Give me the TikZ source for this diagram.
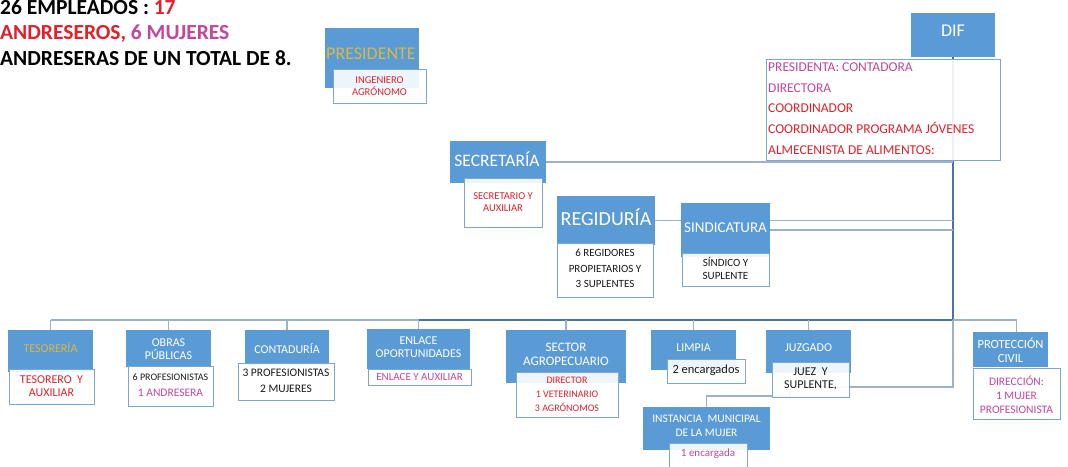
\documentclass[tikz,border=0pt]{standalone}
\usepackage{fontspec}
\setmainfont{Carlito}
\usetikzlibrary{backgrounds}

\definecolor{boxblue}{HTML}{5B9BD5}
\definecolor{edgeblue}{HTML}{7DA7CF}
\definecolor{linkgray}{HTML}{9DB2C8}
\definecolor{trunkblue}{HTML}{4C74A0}
\definecolor{redtxt}{HTML}{E3202A}
\definecolor{pinktxt}{HTML}{C2479C}
\definecolor{goldtxt}{HTML}{D9B843}
\definecolor{darktxt}{HTML}{1A1A1A}

\pgfdeclarelayer{paper}
\pgfsetlayers{paper,background,main}

\newcommand\fsz[2]{\fontsize{#1}{#2}\selectfont}

\begin{document}
\begin{tikzpicture}[x=1pt,y=-1pt,
  bbox/.style={fill=boxblue, draw=none, inner sep=0, outer sep=0, anchor=north west},
  wbox/.style={fill=white, fill opacity=0.9, draw=edgeblue, draw opacity=1,
               line width=0.9pt, inner sep=0, outer sep=0, anchor=north west},
  ttl/.style={inner sep=0, align=center, text=white},
  sub/.style={inner sep=0, align=center},
  line/.style={inner sep=0, anchor=base west},
  link/.style={draw=linkgray, line width=1.1pt},
  trunk/.style={draw=trunkblue, line width=2pt},
]
\useasboundingbox (0,0) rectangle (1068,466);
\clip (0,0) rectangle (1068,466);
\begin{pgfonlayer}{paper}
  \fill[white] (0,0) rectangle (1068,466);
\end{pgfonlayer}

% headline
\node[line, font=\bfseries\fsz{21.5}{26}] (head1) at (0,14.8)
  {26 EMPLEADOS : \textcolor{redtxt}{17}};
\node[line, font=\bfseries\fsz{21.5}{26}] (head2) at (0,39.3)
  {\textcolor{redtxt}{ANDRESEROS,} \textcolor{pinktxt}{6 MUJERES}};
\node[line, font=\bfseries\fsz{21.5}{26}] (head3) at (0,65)
  {ANDRESERAS DE UN TOTAL DE 8.};

% ---------- upper offices ----------
\node[bbox, minimum width=94, minimum height=60] (presB) at (325,28) {};
\node[wbox, minimum width=93, minimum height=34] (presW) at (333,69) {};
\node[ttl, text=goldtxt, font=\fsz{18}{20}] (presT) at (371,54) {PRESIDENTE};
\node[sub, text=redtxt, font=\fsz{10.5}{12}] (presS) at (379.5,86.5) {INGENIERO\\AGRÓNOMO};

\node[bbox, minimum width=84, minimum height=44] (difB) at (911,13) {};
\node[wbox, minimum width=234, minimum height=101] (difW) at (766,59) {};
\node[ttl, font=\fsz{18}{20}] (difT) at (953,31) {DIF};
\node[line, text=pinktxt, font=\fsz{13.5}{16}] (dif1) at (768,71.5) {PRESIDENTA: CONTADORA};
\node[line, text=pinktxt, font=\fsz{13.5}{16}] (dif2) at (768,92.2) {DIRECTORA};
\node[line, text=redtxt, font=\fsz{13.5}{16}] (dif3) at (768,112.9) {COORDINADOR};
\node[line, text=redtxt, font=\fsz{13.5}{16}] (dif4) at (768,133.6) {COORDINADOR PROGRAMA JÓVENES};
\node[line, text=redtxt, font=\fsz{13.5}{16}] (dif5) at (768,154.3) {ALMECENISTA DE ALIMENTOS:};

\node[bbox, minimum width=96, minimum height=42] (secB) at (450,141) {};
\node[wbox, minimum width=78, minimum height=49] (secW) at (464,178) {};
\node[ttl, font=\fsz{17.5}{20}] (secT) at (497,159) {SECRETARÍA};
\node[sub, text=redtxt, font=\fsz{10.5}{11.5}] (secS) at (503,202) {SECRETARIO Y\\AUXILIAR};

\node[bbox, minimum width=98, minimum height=49] (regB) at (557,196) {};
\node[wbox, minimum width=96, minimum height=54] (regW) at (557,243) {};
\node[ttl, font=\fsz{20}{22}] (regT) at (606,217) {REGIDURÍA};
\node[sub, text=darktxt, font=\fsz{11}{15.5}] (regS) at (605,268.5) {6 REGIDORES\\PROPIETARIOS Y\\3 SUPLENTES};

\node[bbox, minimum width=89, minimum height=54] (sinB) at (681,203) {};
\node[wbox, minimum width=87, minimum height=33] (sinW) at (682,253) {};
\node[ttl, font=\fsz{15}{18}] (sinT) at (725.5,228) {SINDICATURA};
\node[sub, text=darktxt, font=\fsz{11}{13.5}] (sinS) at (725.5,268.5) {SÍNDICO Y\\SUPLENTE};

% ---------- lower offices ----------
\node[bbox, minimum width=85, minimum height=42] (tesB) at (8,330) {};
\node[wbox, minimum width=85, minimum height=35] (tesW) at (9,369) {};
\node[ttl, text=goldtxt, font=\fsz{12}{13}] (tesT) at (50.5,348) {TESORERÍA};
\node[sub, text=redtxt, font=\fsz{12}{13}] (tesS) at (51.5,386.5) {TESORERO\ \ Y\\AUXILIAR};

\node[bbox, minimum width=85, minimum height=37] (obrB) at (126,330) {};
\node[wbox, minimum width=85, minimum height=40] (obrW) at (128,366) {};
\node[ttl, font=\fsz{12}{13}] (obrT) at (168.5,349.5) {OBRAS\\PÚBLICAS};
\node[sub, text=darktxt, font=\fsz{10}{12}] (obrS1) at (170.5,377) {6 PROFESIONISTAS};
\node[sub, text=pinktxt, font=\fsz{11.5}{13}] (obrS2) at (170.5,393) {1 ANDRESERA};

\node[bbox, minimum width=84, minimum height=35] (conB) at (245,330) {};
\node[wbox, minimum width=96, minimum height=37] (conW) at (238,363) {};
\node[ttl, font=\fsz{12}{13}] (conT) at (287,349) {CONTADURÍA};
\node[sub, text=darktxt, font=\fsz{11.5}{16}] (conS) at (286,381) {3 PROFESIONISTAS\\2 MUJERES};

\node[bbox, minimum width=103, minimum height=40] (enlB) at (367,329) {};
\node[wbox, minimum width=103, minimum height=16] (enlW) at (368,369) {};
\node[ttl, font=\fsz{12}{13}] (enlT) at (418.5,347.5) {ENLACE\\OPORTUNIDADES};
\node[sub, text=pinktxt, font=\fsz{11}{13}] (enlS) at (419.5,377) {ENLACE Y AUXILIAR};

\node[bbox, minimum width=120, minimum height=53] (agrB) at (506,330) {};
\node[wbox, minimum width=102, minimum height=45] (agrW) at (516,372) {};
\node[ttl, font=\fsz{13}{14}] (agrT) at (566,354) {SECTOR\\AGROPECUARIO};
\node[sub, text=redtxt, font=\fsz{10}{14}] (agrS) at (567,394) {DIRECTOR\\1 VETERINARIO\\3 AGRÓNOMOS};

\node[bbox, minimum width=85, minimum height=40] (limB) at (651,330) {};
\node[wbox, minimum width=78, minimum height=24] (limW) at (667,359) {};
\node[ttl, font=\fsz{12}{13}] (limT) at (693.5,348) {LIMPIA};
\node[sub, text=darktxt, font=\fsz{12.5}{14}] (limS) at (706,370.5) {2 encargados};

\node[bbox, minimum width=85, minimum height=43] (juzB) at (766,330) {};
\node[wbox, minimum width=77, minimum height=35] (juzW) at (772,362) {};
\node[ttl, font=\fsz{12}{13}] (juzT) at (808.5,348) {JUZGADO};
\node[sub, text=darktxt, font=\fsz{12}{13}] (juzS) at (810.5,379) {JUEZ\ \ Y\\SUPLENTE,};

\node[bbox, minimum width=127, minimum height=43] (insB) at (643,407) {};
\node[wbox, minimum width=78, minimum height=30] (insW) at (669,443) {};
\node[ttl, font=\fsz{11.5}{14}] (insT) at (706.5,426) {INSTANCIA\ \ MUNICIPAL\\DE LA MUJER};
\node[sub, text=pinktxt, font=\fsz{11}{13}] (insS) at (708,454) {1 encargada};

\node[bbox, minimum width=75, minimum height=35] (proB) at (973,332) {};
\node[wbox, minimum width=87, minimum height=51] (proW) at (973,368) {};
\node[ttl, font=\fsz{12.5}{14}] (proT) at (1010.5,350) {PROTECCIÓN\\CIVIL};
\node[sub, text=pinktxt, font=\fsz{11.5}{14}] (proS) at (1016.5,395) {DIRECCIÓN:\\1 MUJER\\PROFESIONISTA};

% ---------- connectors ----------
\begin{pgfonlayer}{background}
  \coordinate (hub) at (953,320);
  \coordinate (k1) at (953,387);
  \coordinate (k2) at (790,387);
  \coordinate (k3) at (790,396);
  \draw[trunk] (difB.south) -- (hub);
  \draw[link] (tesB.north |- hub) -- (enlB.north |- hub);
  \draw[trunk] (enlB.north |- hub) -- (hub);
  \foreach \b in {tesB,obrB,conB,enlB,agrB,limB,juzB}
    \draw[link] (\b.north |- hub) -- (\b.north);
  \draw[link] (secB.east) -- (secB.east -| hub);
  \draw[link] (regB.east) -- (regB.east -| hub);
  \draw[link] (sinB.east) -- (sinB.east -| hub);
  \draw[link] (hub) -- (proW.north |- hub) -- (proW.north |- proB.north);
  \draw[link] (hub) -- (k1) -- (k2) -- (k3) -- (k3 -| insB.north) -- (insB.north);
\end{pgfonlayer}
\end{tikzpicture}
\end{document}
